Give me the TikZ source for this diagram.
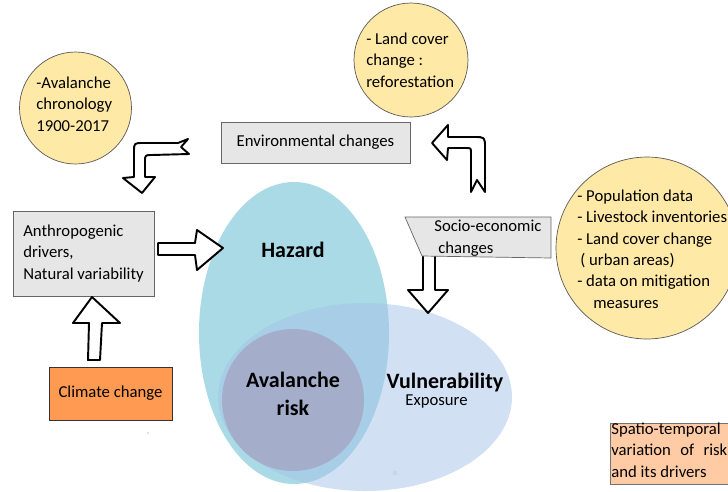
\documentclass[tikz,border=0pt]{standalone}
\usepackage{fontspec}
\setmainfont{Carlito}
\usetikzlibrary{positioning}

\definecolor{boxgrey}{HTML}{E6E6E6}
\definecolor{bubbleyellow}{HTML}{FFE9A6}
\definecolor{hazardblue}{HTML}{A9DAE6}
\definecolor{vulnblue}{HTML}{A6C2E8}
\definecolor{riskpurple}{HTML}{A4AECB}
\definecolor{climorange}{HTML}{FF9A52}
\definecolor{peach}{HTML}{FFCBA5}

\begin{document}
\begin{tikzpicture}[x=0.02cm, y=-0.02cm,
    every node/.style={font=\fontsize{9.5}{12.1}\selectfont},
    plain txt/.style={anchor=base west, inner sep=0pt, align=left},
    big txt/.style={font=\fontsize{12.5}{15.4}\selectfont\bfseries, inner sep=0pt, align=center},
    grey box/.style={draw=black!60, fill=boxgrey, inner sep=0pt},
    bubble/.style={circle, draw=black!65, fill=bubbleyellow, inner sep=0pt},
    block arrow/.style={draw=black, fill=white, line width=1.1pt, line join=round}]

  % Frame of the page
  \useasboundingbox (0,0) rectangle (728,491);
  \clip (0,0) rectangle (728,491);

  % Hazard, vulnerability and the risk in between
  \fill[hazardblue] (294,333) ellipse [x radius=95, y radius=151];
  \fill[vulnblue, opacity=0.5] (365,397) ellipse [x radius=147, y radius=94];
  \node[circle, fill=riskpurple, minimum size=2.84cm, inner sep=0pt] (risk) at (293,400) {};
  \node[big txt, anchor=base] (risktxt) at (293,415) {Avalanche\\risk};
  \node[big txt, anchor=base] (hazard) at (293,257) {Hazard};
  \node[big txt, anchor=base] (vuln) at (445,388) {Vulnerability};
  \node[anchor=base, inner sep=0pt] (exposure) at (436.5,405) {Exposure};
  \fill[black!25] (148,433) circle [radius=0.8];
  \fill[vulnblue!65] (395,473) circle [radius=2.5];

  % Data bubbles (multi-line text sits on its last baseline)
  \node[bubble, minimum size=2.24cm] (chrono) at (75.5,108) {};
  \node[plain txt] (chronotxt) at (36,131) {-Avalanche\\chronology\\1900-2017};
  \node[bubble, minimum size=2.28cm] (landcover) at (411,60) {};
  \node[plain txt] (landtxt) at (366,87) {- Land cover\\change :\\reforestation};
  \node[bubble, minimum size=3.64cm] (popdata) at (647,248) {};
  \node[plain txt] (poptxt) at (577,308) {- Population data\\- Livestock inventories\\- Land cover change\\\hspace{0.06cm}( urban areas)\\- data on mitigation\\\hspace{0.32cm}measures};

  % Drivers
  \node[grey box, minimum width=3.78cm, minimum height=0.82cm] (env) at (315.5,142.5) {Environmental changes};
  \node[grey box, minimum width=2.82cm, minimum height=1.7cm, align=left] (anthro) at (83.5,253.5) {Anthropogenic\\drivers,\\Natural variability};
  \node[draw=black!80, fill=climorange, minimum width=2.46cm, minimum height=1.06cm, inner sep=0pt] (climate) at (110.5,393.5) {Climate change};

  % Block arrows
  \draw[block arrow] (188,139) -- (181,147) -- (189,154) -- (152,155) .. controls (145,155) .. (145,162) -- (145,177) -- (155,177) -- (142,193) -- (123,178) -- (134,177) -- (134,152) .. controls (134,143) .. (143,143) -- (178,143) -- cycle;
  \draw[block arrow] (432,143) -- (448,125) -- (448,137) -- (474,137) .. controls (485,137) .. (485,148) -- (485,192) -- (477,180) -- (471,192) -- (471,153) .. controls (471,148) .. (466,148) -- (448,148) -- (447,160) -- cycle;
  \draw[block arrow] (158,243) -- (195,243) -- (197,230) -- (223,248) -- (197,270) -- (195,255) -- (158,255) -- cycle;
  \draw[block arrow] (92,297) -- (120,323) -- (102,323) -- (100,360) -- (88,360) -- (89,323) -- (73,323) -- cycle;
  \draw[block arrow] (423,250) -- (423,290) -- (408,290) -- (428,313) -- (448,290) -- (435,290) -- (435,250);

  % Socio-economic changes
  \draw[grey box] (405,217) -- (551,217) -- (551,258) -- (422,256) -- cycle;
  \node[plain txt] (socio) at (434,253) {Socio-economic\\\hspace{0.08cm}changes};

  % Legend
  \node[draw=black!55, fill=peach, minimum width=2.6cm, minimum height=1.22cm, inner sep=0pt, anchor=north west] (spatio) at (610,423) {};
  \node[plain txt] (spatiotxt) at (611,477) {Spatio-temporal\\\makebox[2.32cm][s]{variation of risk}\\and its drivers};
\end{tikzpicture}
\end{document}
